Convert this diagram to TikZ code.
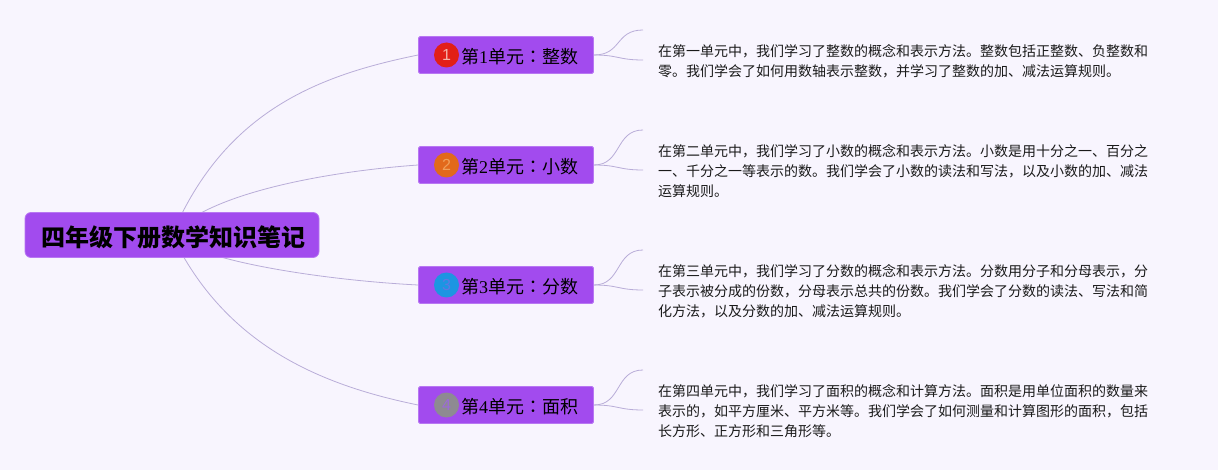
\documentclass[tikz,border=0pt]{standalone}
\usepackage{fontspec}
\usetikzlibrary{backgrounds,calc}
\setmainfont{Liberation Serif}
\newfontfamily\cjk{Noto Sans CJK SC}
\newfontfamily\cjkjp{Noto Sans CJK JP}
\newfontfamily\numfont{Liberation Sans}
\definecolor{bgc}{HTML}{F8F5FE}
\definecolor{boxc}{HTML}{A24BEE}
\definecolor{boxb}{HTML}{B877F2}
\definecolor{linec}{HTML}{B9ADD8}
\definecolor{bodyc}{HTML}{1A1A1A}
\definecolor{bred}{HTML}{E21F17}
\definecolor{bora}{HTML}{E2691B}
\definecolor{bblu}{HTML}{1C95E2}
\definecolor{bgry}{HTML}{8E8A92}
\definecolor{dred}{HTML}{F5B0A6}
\definecolor{dora}{HTML}{F0A05A}
\definecolor{dblu}{HTML}{5C78E6}
\definecolor{dgry}{HTML}{9C6AD8}
\tikzset{
  rootbox/.style={fill=boxc,draw=boxb,line width=0.8pt,rounded corners=6pt,minimum width=294pt,minimum height=45pt,inner sep=0pt},
  roottext/.style={inner sep=0pt,text=black,font=\fontsize{24}{24}\selectfont\cjk\bfseries},
  unitbox/.style={fill=boxc,draw=boxb,line width=0.8pt,rounded corners=1.5pt,minimum width=175pt,minimum height=37pt,inner sep=0pt},
  unittext/.style={inner sep=0pt,anchor=west,text=black,font=\fontsize{18}{18}\selectfont},
  badge/.style={circle,minimum size=25pt,inner sep=0pt},
  digit/.style={inner sep=0pt,font=\fontsize{16}{16}\selectfont\numfont},
  note/.style={inner sep=0pt,anchor=north west,align=left,text=bodyc,font=\fontsize{14}{20}\selectfont\cjk},
  link/.style={draw=linec,line width=0.8pt},
}
\newcommand{\unitlabel}[2]{{\cjk 第}#1{\cjk 单元}{\cjkjp ：}{\cjk #2}}
\begin{document}
\begin{tikzpicture}[x=1pt,y=-1pt]
\useasboundingbox (0,0) rectangle (1218,470);
\node[rootbox] (root) at (172,235) {};
\node[roottext] (roottitle) at (173.5,237) {四年级下册数学知识笔记};
\node[unitbox] (u1) at (506,55) {};
\node[unitbox] (u2) at (506,165) {};
\node[unitbox] (u3) at (506,285) {};
\node[unitbox] (u4) at (506,405) {};
\node[badge,fill=bred] (b1) at (446.5,55) {};
\node[badge,fill=bora] (b2) at (446.5,165) {};
\node[badge,fill=bblu] (b3) at (446.5,285) {};
\node[badge,fill=bgry] (b4) at (446.5,405) {};
\node[digit,text=dred] (d1) at (b1.center) {1};
\node[digit,text=dora] (d2) at (b2.center) {2};
\node[digit,text=dblu] (d3) at (b3.center) {3};
\node[digit,text=dgry] (d4) at (b4.center) {4};
\node[unittext] (t1) at (461,56.5) {\unitlabel{1}{整数}};
\node[unittext] (t2) at (461,166.5) {\unitlabel{2}{小数}};
\node[unittext] (t3) at (461,286.5) {\unitlabel{3}{分数}};
\node[unittext] (t4) at (461,406.5) {\unitlabel{4}{面积}};
\node[note] (n1) at (658,44.5) {在第一单元中，我们学习了整数的概念和表示方法。整数包括正整数、负整数和\\零。我们学会了如何用数轴表示整数，并学习了整数的加、减法运算规则。};
\node[note] (n2) at (658,144.5) {在第二单元中，我们学习了小数的概念和表示方法。小数是用十分之一、百分之\\一、千分之一等表示的数。我们学会了小数的读法和写法，以及小数的加、减法\\运算规则。};
\node[note] (n3) at (658,264.5) {在第三单元中，我们学习了分数的概念和表示方法。分数用分子和分母表示，分\\子表示被分成的份数，分母表示总共的份数。我们学会了分数的读法、写法和简\\化方法，以及分数的加、减法运算规则。};
\node[note] (n4) at (658,384.5) {在第四单元中，我们学习了面积的概念和计算方法。面积是用单位面积的数量来\\表示的，如平方厘米、平方米等。我们学会了如何测量和计算图形的面积，包括\\长方形、正方形和三角形等。};
\coordinate (a1) at (643,30);
\coordinate (c1) at (643,60);
\coordinate (a2) at (643,130);
\coordinate (c2) at (643,170);
\coordinate (a3) at (643,250);
\coordinate (c3) at (643,290);
\coordinate (a4) at (643,370);
\coordinate (c4) at (643,410);
\begin{pgfonlayer}{background}
\fill[bgc] (0,0) rectangle (1218,470);
\draw[link] (root.center) .. controls (225,110) and (320,75) .. (u1.west);
\draw[link] (root.center) .. controls (205,195) and (320,172) .. (u2.west);
\draw[link] (root.center) .. controls (195,260) and (320,280) .. (u3.west);
\draw[link] (root.center) .. controls (225,345) and (320,385) .. (u4.west);
\foreach \i in {1,2,3,4}{
  \draw[link] (u\i.east) .. controls +(28,0) and ($(a\i)+(-28,0)$) .. (a\i);
  \draw[link] (u\i.east) .. controls +(25,0) and ($(c\i)+(-25,0)$) .. (c\i);
}
\end{pgfonlayer}
\end{tikzpicture}
\end{document}
